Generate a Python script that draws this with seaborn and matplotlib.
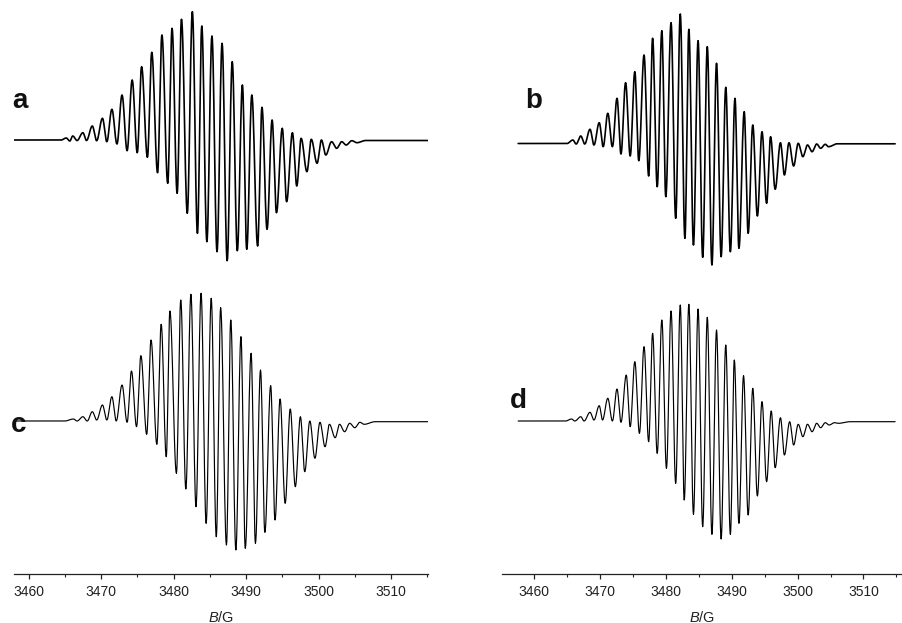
import numpy as np
import pandas as pd
import matplotlib
matplotlib.use("Agg")
import matplotlib.pyplot as plt
from matplotlib.ticker import MultipleLocator
import seaborn as sns

# ---------------- data ----------------
# field positions (G) and intensities (a.u., relative to each baseline)
# of the maxima ("top") and minima ("bot") of each spectrum

# spectrum a (experimental, left top)
a_top_B = [3465.2, 3466.1, 3467.5, 3468.8, 3470.2, 3471.5, 3472.9, 3474.3, 3475.6, 3477.0,
           3478.4, 3479.8, 3481.1, 3482.6, 3483.9, 3485.3, 3486.7, 3488.1, 3489.5, 3490.8,
           3492.2, 3493.6, 3495.0, 3496.4, 3497.6, 3499.0, 3500.4, 3501.8, 3503.2, 3504.6]
a_top_I = [2, 4, 7.3, 14, 21.7, 30.7, 45, 60, 73.3, 87.7,
           105, 111.7, 120.7, 128.3, 114, 104, 96.7, 78.3, 55, 45,
           32.7, 20, 11.7, 7.3, 1.7, 0.7, 0, -1.7, -1.7, -0.7]
a_bot_B = [3465.7, 3466.7, 3468.0, 3469.4, 3470.8, 3472.2, 3473.6, 3475.0, 3476.4, 3477.8,
           3479.2, 3480.5, 3481.9, 3483.3, 3484.6, 3486.0, 3487.4, 3488.8, 3490.1, 3491.6,
           3492.9, 3494.2, 3495.6, 3497.0, 3498.4, 3499.8, 3501.0, 3502.5, 3503.8, 3505.3]
a_bot_I = [-1, -0.5, -0.5, -0.7, -1.7, -4, -10.7, -12.7, -17.3, -32.7,
           -43.3, -53.3, -73.3, -93.3, -101.7, -111.7, -120.7, -110.7, -109.3, -106,
           -89.3, -72.7, -61.7, -46, -31.7, -23.3, -15, -8.3, -5, -2.7]
a_edge_B = [3458.0, 3464.5, 3506.5, 3515.1]
a_edge_I = [0, 0, -0.5, -0.5]

# spectrum c (simulated, left bottom)
c_top_B = [3466.2, 3467.5, 3468.8, 3470.2, 3471.5, 3472.9, 3474.2, 3475.5, 3476.9, 3478.3,
           3479.5, 3481.0, 3482.4, 3483.8, 3485.2, 3486.5, 3487.9, 3489.3, 3490.7, 3492.0,
           3493.4, 3494.7, 3496.1, 3497.5, 3498.8, 3500.2, 3501.5, 3502.9, 3504.3, 3505.7]
c_top_I = [2, 4.3, 9.3, 16, 24.3, 36, 50, 65.3, 81, 96.7,
           110, 121, 126.7, 127.7, 122.7, 113.3, 101, 84.3, 67.7, 51,
           35.3, 22, 12, 4.3, 0, -1.3, -3.3, -3.3, -2.3, -1.3]
c_bot_B = [3466.7, 3468.1, 3469.4, 3470.8, 3472.1, 3473.6, 3474.9, 3476.3, 3477.7, 3479.0,
           3480.4, 3481.7, 3483.1, 3484.5, 3485.9, 3487.3, 3488.6, 3489.9, 3491.3, 3492.6,
           3494.0, 3495.4, 3496.8, 3498.1, 3499.5, 3500.9, 3502.3, 3503.6, 3505.0, 3506.3]
c_bot_I = [0, 0, 1, 1, 0, -1.3, -5.7, -13.3, -23.3, -35.7,
           -52.3, -68, -85.7, -102.3, -115.7, -124, -129, -127.3, -122.3, -111.3,
           -99, -82.3, -65.7, -50.7, -37.3, -25.7, -16.7, -10.7, -6.7, -3.3]
c_edge_B = [3458.0, 3465.0, 3507.8, 3515.1]
c_edge_I = [0, 0, -0.7, -0.7]

# spectrum b (experimental, right top)
b_top_B = [3465.9, 3467.1, 3468.5, 3469.9, 3471.2, 3472.6, 3473.9, 3475.3, 3476.7, 3478.0,
           3479.4, 3480.8, 3482.2, 3483.5, 3484.9, 3486.3, 3487.7, 3489.1, 3490.5, 3491.9,
           3493.2, 3494.6, 3495.9, 3497.4, 3498.7, 3500.1, 3501.5, 3502.9, 3504.2]
b_top_I = [3.5, 7.5, 14.2, 20.8, 30.2, 45.2, 60.8, 71.8, 88.5, 105.2,
           112.8, 120.8, 129.5, 114.2, 102.8, 96.8, 80.2, 56.2, 45.2, 31.8,
           18.5, 11.8, 6.8, 0.8, 0.8, 0.2, -1.5, -0.5, -0.8]
b_bot_B = [3466.4, 3467.7, 3469.1, 3470.5, 3471.9, 3473.2, 3474.6, 3475.9, 3477.4, 3478.7,
           3480.0, 3481.5, 3482.9, 3484.2, 3485.6, 3487.0, 3488.4, 3489.8, 3491.1, 3492.5,
           3493.9, 3495.3, 3496.6, 3498.0, 3499.4, 3500.8, 3502.2, 3503.5, 3504.7]
b_bot_I = [-0.5, -0.5, -1.5, -3.2, -3.2, -10.5, -12.5, -17.2, -32.5, -43.2,
           -53.2, -74.8, -94.8, -101.5, -113.8, -121.5, -113.2, -108.2, -104.8, -89.8,
           -72.5, -59.8, -45.8, -31.5, -22.5, -13.2, -8.2, -4.8, -3.2]
b_edge_B = [3457.6, 3465.0, 3506.0, 3514.8]
b_edge_I = [0, 0, -0.3, -0.3]

# spectrum d (simulated, right bottom)
d_top_B = [3465.7, 3467.1, 3468.5, 3469.9, 3471.2, 3472.6, 3474.0, 3475.3, 3476.7, 3478.0,
           3479.4, 3480.8, 3482.2, 3483.5, 3484.9, 3486.3, 3487.7, 3489.1, 3490.4, 3491.8,
           3493.2, 3494.6, 3496.0, 3497.4, 3498.8, 3500.1, 3501.5, 3502.9, 3504.2, 3505.6]
d_top_I = [2, 4.3, 8.7, 15.3, 22.7, 32, 46, 59.3, 74.3, 87.7,
           101, 110, 116, 116.7, 112, 103.7, 91, 76, 61, 45.3,
           32.7, 19.3, 10, 3.3, -0.7, -3.3, -3.3, -2.3, -1.7, -1.7]
d_bot_B = [3466.2, 3467.6, 3469.1, 3470.4, 3471.9, 3473.2, 3474.6, 3476.0, 3477.4, 3478.7,
           3480.1, 3481.5, 3482.8, 3484.2, 3485.6, 3487.0, 3488.4, 3489.8, 3491.1, 3492.5,
           3493.9, 3495.3, 3496.6, 3498.0, 3499.4, 3500.8, 3502.2, 3503.5, 3504.8, 3506.2]
d_bot_I = [0, 0, 1, 1, 0, -1.3, -5.7, -12.3, -20.7, -32.3,
           -47.3, -62.3, -79, -93.3, -105.7, -113.3, -118, -113.3, -102.3, -94,
           -75, -60.7, -46.7, -34, -24, -15.7, -10.7, -6.7, -4, -2.3]
d_edge_B = [3457.6, 3464.8, 3508.0, 3514.8]
d_edge_I = [0, 0, -0.7, -0.7]

panel_labels = ["a", "b", "c", "d"]
x_ticks = [3460, 3470, 3480, 3490, 3500, 3510]
x_label = "$\\mathit{B}$/G"

# ---------------- style ----------------
sns.set_theme(style="white")
plt.rcParams["font.family"] = ["Liberation Sans", "DejaVu Sans"]
plt.rcParams["mathtext.fontset"] = "custom"
plt.rcParams["mathtext.rm"] = "Liberation Sans"
plt.rcParams["mathtext.it"] = "Liberation Sans:italic"


def smooth_trace(top_B, top_I, bot_B, bot_I, edge_B, edge_I, n=14):
    """Connect the read extrema with half-cosine arcs (horizontal tangent at each extremum)."""
    B = np.array(list(top_B) + list(bot_B) + list(edge_B), float)
    I = np.array(list(top_I) + list(bot_I) + list(edge_I), float)
    o = np.argsort(B)
    B, I = B[o], I[o]
    xs, ys = [B[0]], [I[0]]
    t = np.linspace(0, 1, n)[1:]
    w = (1 - np.cos(np.pi * t)) / 2
    for k in range(len(B) - 1):
        xs.extend(B[k] + (B[k + 1] - B[k]) * t)
        ys.extend(I[k] + (I[k + 1] - I[k]) * w)
    return np.array(xs), np.array(ys)


W, H = 903, 623
fig = plt.figure(figsize=(W / 100, H / 100), dpi=100)

axis_y = 574.3
lower_base = 421.0
axes_specs = [
    # left px, right px, xlim
    (14.0, 428.0, (3458.0, 3515.1)),
    (501.7, 901.7, (3455.1, 3515.8)),
]
traces = [
    [(a_top_B, a_top_I, a_bot_B, a_bot_I, a_edge_B, a_edge_I, 421 - 140.0, 1.2),
     (c_top_B, c_top_I, c_bot_B, c_bot_I, c_edge_B, c_edge_I, 0.0, 0.85)],
    [(b_top_B, b_top_I, b_bot_B, b_bot_I, b_edge_B, b_edge_I, 421 - 143.5, 1.2),
     (d_top_B, d_top_I, d_bot_B, d_bot_I, d_edge_B, d_edge_I, 0.0, 0.85)],
]

for (lpx, rpx, xlim), trs in zip(axes_specs, traces):
    ax = fig.add_axes([lpx / W, 1 - axis_y / H, (rpx - lpx) / W, axis_y / H])
    for tB, tI, bB, bI, eB, eI, off, lw in trs:
        x, y = smooth_trace(tB, tI, bB, bI, eB, eI)
        df = pd.DataFrame({"B": x, "I": y + off})
        sns.lineplot(data=df, x="B", y="I", ax=ax, color="black", lw=lw,
                     estimator=None, sort=False)
    ax.set_xlim(*xlim)
    ax.set_ylim(-(axis_y - lower_base), lower_base)
    for s in ["top", "right", "left"]:
        ax.spines[s].set_visible(False)
    ax.spines["bottom"].set_color("#222222")
    ax.spines["bottom"].set_linewidth(0.9)
    ax.set_yticks([])
    ax.set_ylabel("")
    ax.set_xticks(x_ticks)
    ax.xaxis.set_minor_locator(MultipleLocator(5))
    ax.tick_params(axis="x", which="major", direction="out", length=3.5, width=0.9,
                   color="#222222", labelsize=10, labelcolor="#222222", pad=4.5, bottom=True)
    ax.tick_params(axis="x", which="minor", direction="out", length=2.0, width=0.8,
                   color="#222222", bottom=True)
    ax.set_xlabel(x_label, fontsize=10.5, color="#222222", labelpad=7.5)
    ax.patch.set_alpha(0)

label_pos = [(12, 108), (525, 108), (11, 432), (510, 408)]
for lab, (px, py) in zip(panel_labels, label_pos):
    fig.text(px / W, 1 - py / H, lab, fontsize=20, fontweight="bold",
             ha="left", va="baseline", color="#111111")

fig.savefig("out.png", dpi=100)
